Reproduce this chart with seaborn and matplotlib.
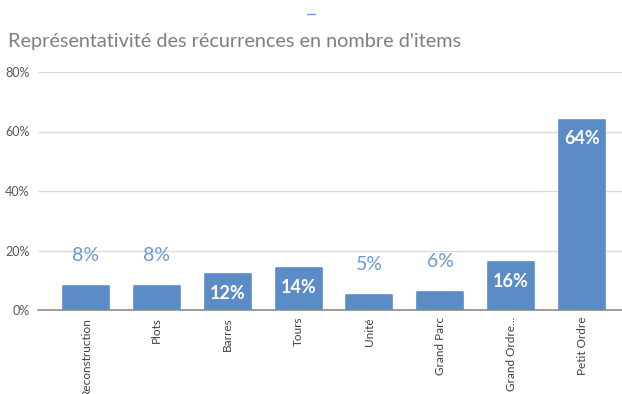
import matplotlib
matplotlib.use("Agg")
import matplotlib.pyplot as plt
import seaborn as sns
import pandas as pd
from matplotlib.lines import Line2D

categories = ["Reconstruction", "Plots", "Barres", "Tours", "Unité",
              "Grand Parc", "Grand Ordre...", "Petit Ordre"]
values = [8, 8, 12, 14, 5, 6, 16, 64]
inside_label = [False, False, True, True, False, False, True, True]
y_ticks = [0, 20, 40, 60, 80]
title = "Représentativité des récurrences en nombre d'items"

bar_color = "#5b8cc6"
label_blue = "#6a9bd6"

sns.set_theme(style="white")
plt.rcParams["font.family"] = ["Lato", "DejaVu Sans"]

df = pd.DataFrame({"cat": categories, "val": values})

fig = plt.figure(figsize=(6.22, 3.94), dpi=100)
ax = fig.add_axes([38 / 622, 1 - 310 / 394, (622 - 38) / 622, 238 / 394])

sns.barplot(data=df, x="cat", y="val", color=bar_color, saturation=1,
            width=0.65, ax=ax, edgecolor=bar_color, linewidth=1.2, zorder=3)
for p in ax.patches:
    p.set_joinstyle("round")

ax.set_ylim(0, 80)
ax.set_xlim(-0.5 - 12.5 / 71, 7.5 + 4.5 / 71)
ax.set_yticks(y_ticks)
ax.set_yticklabels([f"{t}%" for t in y_ticks], color="#595959", fontsize=9)
ax.yaxis.grid(True, color="#dcdcdc", linewidth=1, zorder=0)
ax.set_axisbelow(True)
ax.tick_params(axis="y", length=0, pad=6)
ax.tick_params(axis="x", length=0, pad=5)
ax.set_xticks(range(len(categories)))
ax.set_xticklabels(categories, rotation=90, color="#404040", fontsize=8.5,
                   va="top", ha="center")
ax.set_xlabel("")
ax.set_ylabel("")
for s in ["top", "right", "left"]:
    ax.spines[s].set_visible(False)
ax.spines["bottom"].set_color("#8c8c8c")
ax.spines["bottom"].set_linewidth(1.2)

# value labels: white inside tall bars, blue above short ones
px = 80 / 238  # data units per pixel
for i, (v, inside) in enumerate(zip(values, inside_label)):
    if inside:
        ax.text(i, v - 19 * px, f"{v}%", ha="center", va="center",
                color="white", fontsize=13, fontweight="bold", zorder=4)
    else:
        ax.text(i, v + 31 * px, f"{v}%", ha="center", va="center",
                color=label_blue, fontsize=14, zorder=4)

fig.text(8 / 622, 1 - 42 / 394, title, ha="left", va="center",
         fontsize=14.3, color="#7f7f7f")
fig.add_artist(Line2D([307 / 622, 315 / 622], [1 - 14 / 394, 1 - 14 / 394],
                      color=label_blue, linewidth=1))

fig.savefig("out.png", dpi=100)
